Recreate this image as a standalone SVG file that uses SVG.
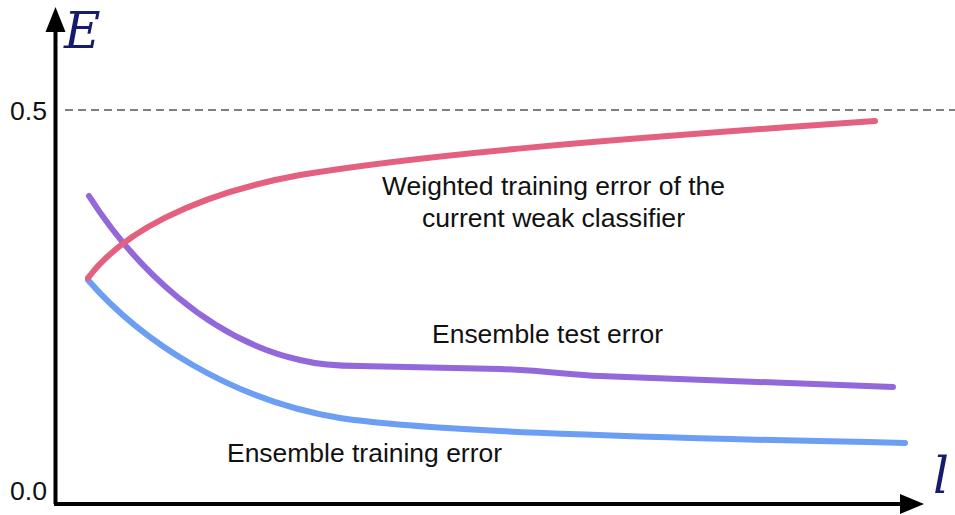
<svg xmlns="http://www.w3.org/2000/svg" width="955" height="515" viewBox="0 0 955 515">
<style>
.lbl{font-family:"Liberation Sans",Arial,sans-serif;font-size:25px;fill:#111}
.math{font-family:"DejaVu Serif","Liberation Serif",serif;font-style:italic;fill:#141c6b}
.curve{fill:none;stroke-width:6;stroke-linecap:round;stroke-linejoin:round}
</style>
<rect width="955" height="515" fill="#fff"/>
<g id="axes">
<line x1="55.5" y1="504" x2="55.5" y2="28" stroke="#000" stroke-width="4"/>
<polygon points="55.5,7 45.5,32 65.5,32" fill="#000"/>
<line x1="54" y1="504" x2="903" y2="504" stroke="#000" stroke-width="4"/>
<polygon points="924,504 900,494 900,514" fill="#000"/>
<line x1="65" y1="110" x2="955" y2="110" stroke="#555" stroke-width="1.5" stroke-dasharray="8,5"/>
<text class="math" x="64" y="48" font-size="50">E</text>
<text class="math" x="933" y="493" font-size="50">l</text>
<text class="lbl" x="10" y="120" textLength="37" lengthAdjust="spacingAndGlyphs">0.5</text>
<text class="lbl" x="10" y="500" textLength="37" lengthAdjust="spacingAndGlyphs">0.0</text>
</g>
<g id="connectors">
<path id="blue" class="curve" stroke="#6c9ef3" d="M88,280 C140,340 230,400 340,418 C420,430 600,437 905,443"/>
<path id="purple" class="curve" stroke="#9368da" d="M89,196 C135,268 210,340 300,360 C320,365 340,366 360,366 L500,369 C550,371 570,375 600,376 L893,387"/>
<path id="red" class="curve" stroke="#e3607f" d="M88,278 C120,235 190,195 300,175 C420,155 600,140 875,121"/>
</g>
<g id="label-weighted">
<text class="lbl" x="382" y="195" textLength="343" lengthAdjust="spacingAndGlyphs">Weighted training error of the</text>
<text class="lbl" x="422" y="227" textLength="263" lengthAdjust="spacingAndGlyphs">current weak classifier</text>
</g>
<g id="label-test">
<text class="lbl" x="432" y="343" textLength="231" lengthAdjust="spacingAndGlyphs">Ensemble test error</text>
</g>
<g id="label-train">
<text class="lbl" x="227" y="462" textLength="275" lengthAdjust="spacingAndGlyphs">Ensemble training error</text>
</g>
</svg>
